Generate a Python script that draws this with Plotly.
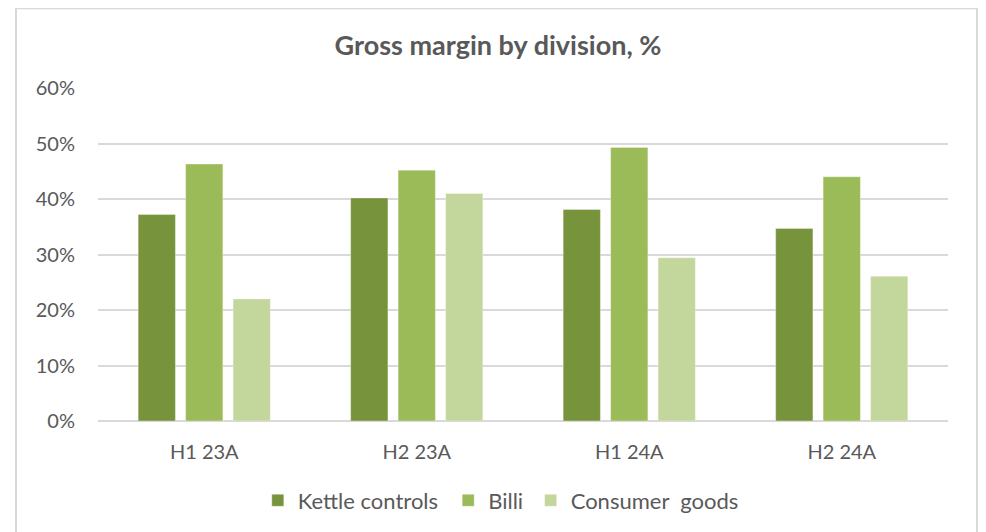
import plotly.graph_objects as go

categories = ["H1 23A", "H2 23A", "H1 24A", "H2 24A"]
kettle_controls = [0.372, 0.402, 0.381, 0.347]
billi = [0.463, 0.452, 0.493, 0.440]
consumer_goods = [0.220, 0.410, 0.294, 0.261]
series_names = ["Kettle controls", "Billi", "Consumer  goods"]
series_colors = ["#77933C", "#9BBB59", "#C3D69B"]
y_ticks = [0, 0.1, 0.2, 0.3, 0.4, 0.5, 0.6]

legend_ids = ["legend", "legend2", "legend3"]
legend_x = [0.188, 0.412, 0.509]

fig = go.Figure()
for name, vals, col, lid in zip(series_names, [kettle_controls, billi, consumer_goods],
                                series_colors, legend_ids):
    fig.add_trace(go.Bar(
        x=categories, y=vals, name=name, legend=lid,
        marker=dict(color=col, line=dict(color="rgba(255,255,255,0.35)", width=1)),
    ))

font_family = "Lato, 'Open Sans', sans-serif"
legend_style = dict(orientation="h", xanchor="left", y=-0.235, yanchor="middle",
                    font=dict(size=22, color="#595959"), itemwidth=30,
                    bgcolor="rgba(0,0,0,0)")
fig.update_layout(
    width=978, height=524,
    margin=dict(l=90, r=38, t=80, b=110),
    paper_bgcolor="white", plot_bgcolor="white",
    barmode="group", bargap=0.33, bargroupgap=0.215,
    font=dict(family=font_family, color="#595959", size=20),
    title=dict(text="<b>Gross margin by division, %</b>", x=0.501, xanchor="center",
               y=0.929, yanchor="middle", font=dict(size=27, color="#595959")),
    legend=dict(x=legend_x[0], **legend_style),
    legend2=dict(x=legend_x[1], **legend_style),
    legend3=dict(x=legend_x[2], **legend_style),
    showlegend=True,
)
fig.update_yaxes(range=[0, 0.6], tickvals=y_ticks, tickformat=".0%",
                 showgrid=True, gridcolor="#D9D9D9", gridwidth=1.5,
                 zeroline=True, zerolinecolor="#D9D9D9", zerolinewidth=1.5,
                 showline=False, ticks="", ticklabelstandoff=22,
                 tickfont=dict(size=20, color="#595959"))
fig.update_xaxes(showline=False, ticks="", showgrid=False,
                 ticklabelstandoff=17,
                 tickfont=dict(size=20, color="#595959"))
fig.add_shape(type="rect", xref="paper", yref="paper",
              x0=-0.0965, x1=1.0341, y0=-0.36, y1=1.2395,
              line=dict(color="#D9D9D9", width=2), fillcolor="rgba(0,0,0,0)", layer="below")

fig.write_html("out.html")
